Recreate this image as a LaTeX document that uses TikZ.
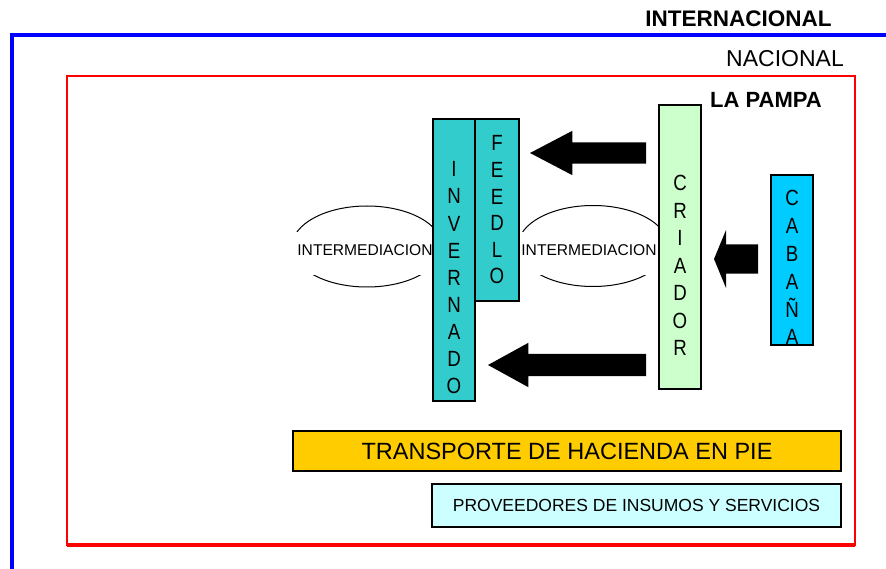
\documentclass[tikz,border=0pt]{standalone}
\usepackage{fontspec}
\setmainfont{Liberation Sans}
\newfontfamily\angosta[FakeStretch=0.85]{Liberation Sans}
\usetikzlibrary{shapes.geometric,shapes.arrows}

\definecolor{turquesa}{HTML}{33CCCC}
\definecolor{verdecla}{HTML}{CCFFCC}
\definecolor{celeste}{HTML}{00CCFF}
\definecolor{oro}{HTML}{FFCC00}
\definecolor{celestecla}{HTML}{CCFFFF}

\tikzset{
  caja/.style={draw=black, line width=1.5pt, inner sep=0pt},
  letra/.style={anchor=base, inner sep=0pt, font=\angosta\fontsize{22}{22}\selectfont},
  flecha/.style={single arrow, fill=black, inner xsep=0pt, outer sep=0pt,
    shape border rotate=180, single arrow head indent=0pt, anchor=tip},
  interm/.style={fill=white, inner sep=0pt, minimum width=156pt,
    minimum height=43pt, text depth=7pt, font=\fontsize{15.6}{16}\selectfont},
  elipse/.style={draw, ellipse, line width=1pt, inner sep=0pt,
    minimum width=150pt, minimum height=81pt},
}

\begin{document}
\begin{tikzpicture}[x=1pt,y=-1pt]
    \useasboundingbox (0,0) rectangle (886,569);
    % ambitos
    \draw[blue, line width=4pt] (12,569) -- (12,35) -- (886,35);
    \draw[red, line width=2pt] (67,76) rectangle (855,545);
    \draw[red, line width=4pt] (67,545) -- (855,545);
    \node[inner sep=0pt, font=\bfseries\fontsize{22.5}{24}\selectfont] (internacional) at (738.5,18.5) {INTERNACIONAL};
    \node[inner sep=0pt, font=\fontsize{23}{24}\selectfont] (nacional) at (785,58.5) {NACIONAL};
    \node[inner sep=0pt, font=\bfseries\fontsize{22}{24}\selectfont] (lapampa) at (766,99.5) {LA PAMPA};
    % intermediacion
    \node[elipse] (elizq) at (367,246.5) {};
    \node[elipse] (elder) at (593,246) {};
    \node[interm] (intizq) at (365,253.5) {INTERMEDIACION};
    \node[interm] (intder) at (589,253.5) {INTERMEDIACION};
    % actores
    \node[caja, fill=turquesa, minimum width=42pt, minimum height=282pt] (invernador) at (454,260) {};
    \node[caja, fill=turquesa, minimum width=44pt, minimum height=182pt] (feedlot) at (497,210) {};
    \node[caja, fill=verdecla, minimum width=42pt, minimum height=284pt] (criador) at (680,247) {};
    \node[caja, fill=celeste, minimum width=42pt, minimum height=170pt] (cabania) at (792,260) {};
    \foreach \l [count=\i] in {I,N,V,E,R,N,A,D,O}
        \node[letra] (inv\i) at (454,{176.9+27.1*(\i-1)}) {\l};
    \foreach \l [count=\i] in {F,E,E,D,L,O}
        \node[letra] (fee\i) at (497,{150.9+26.6*(\i-1)}) {\l};
    \foreach \l [count=\i] in {C,R,I,A,D,O,R}
        \node[letra] (cri\i) at (680,{190.9+27.5*(\i-1)}) {\l};
    \foreach \l [count=\i] in {C,A,B,A,Ñ,A}
        \node[letra] (cab\i) at (792,{205.9+27.8*(\i-1)}) {\l};
    % flujos
    \node[flecha, minimum height=116pt, inner ysep=10.5pt, single arrow head extend=11.5pt, single arrow tip angle=55.3] (f1) at (530,153) {};
    \node[flecha, minimum height=44pt, inner ysep=14.5pt, single arrow head extend=14.5pt, single arrow tip angle=135] (f2) at (714,259) {};
    \node[flecha, minimum height=158pt, inner ysep=11pt, single arrow head extend=11pt, single arrow tip angle=57.6] (f3) at (488,365) {};
    % servicios
    \node[caja, fill=oro, minimum width=548pt, minimum height=40pt, font=\fontsize{23.5}{24}\selectfont] (transporte) at (567,451) {TRANSPORTE DE HACIENDA EN PIE};
    \node[caja, fill=celestecla, minimum width=409pt, minimum height=43pt, font=\fontsize{17.5}{18}\selectfont] (proveedores) at (636.5,505.5) {PROVEEDORES DE INSUMOS Y SERVICIOS};
\end{tikzpicture}
\end{document}
